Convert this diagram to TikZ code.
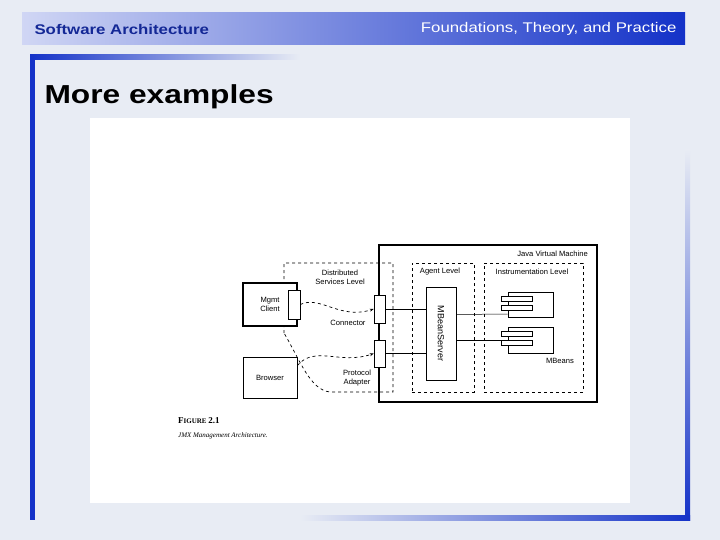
\documentclass[tikz,border=0pt]{standalone}
\usepackage{fontspec}
\setmainfont{Liberation Sans}
\newfontfamily\serifcap{Liberation Serif}
\usetikzlibrary{arrows.meta}
\definecolor{hblue}{RGB}{20,50,200}
\definecolor{dblue}{RGB}{20,40,150}
\definecolor{bgc}{RGB}{232,236,244}
\begin{document}
\begin{tikzpicture}[x=1pt,y=-1pt,
  lbl/.style={font=\fontsize{7.6}{8.6}\selectfont,inner sep=0pt,align=center},
  dbox/.style={draw,dashed,line width=0.7pt},
  tbox/.style={draw,line width=1.4pt},
  sbox/.style={draw,line width=0.6pt,fill=white},
  wire/.style={line width=0.8pt},
  darr/.style={dashed,line width=0.7pt,-{Stealth[length=4pt]}}]
\useasboundingbox (0,0) rectangle (720,540);
\fill[bgc] (0,0) rectangle (720,540);
% header
\shade[left color=white!80!hblue,right color=hblue] (22,13) rectangle (685,45);
\node[anchor=west,font=\bfseries\fontsize{14}{16}\selectfont,text=dblue] (ht) at (31,29) {\scalebox{1.2}[1]{Software Architecture}};
\node[anchor=east,font=\fontsize{14}{16}\selectfont,text=white] (hr) at (680,29) {\scalebox{1.2}[1]{Foundations, Theory, and Practice}};
% frame
\fill[hblue] (30,55) rectangle (35,520);
\shade[left color=hblue,right color=bgc] (30,55) rectangle (300,60);
\shade[top color=bgc,bottom color=hblue] (685,150) rectangle (690,520);
\shade[left color=bgc,right color=hblue] (300,515) rectangle (690,520);
\node[anchor=west,font=\bfseries\fontsize{26}{30}\selectfont] (title) at (41,97) {\scalebox{1.22}[1]{More examples}};
\fill[white] (90,118) rectangle (630,503);
% diagram
\node[tbox,minimum width=218,minimum height=157] (jvm) at (488,323.5) {};
\node[lbl,anchor=east] (jvml) at (588,254) {Java Virtual Machine};
\draw[dbox] (284,333) -- (284,263) -- (393,263) -- (393,392) -- (330,392) .. controls (310,390) and (300,360) .. (284,333);
\node[dbox,minimum width=62,minimum height=129] (agent) at (443,327.5) {};
\node[dbox,minimum width=99,minimum height=129] (instr) at (533.5,327.5) {};
\node[lbl] (dsl) at (340,277) {Distributed\\Services Level};
\node[lbl] (al) at (440,272) {Agent Level};
\node[lbl] (il) at (532,272) {Instrumentation Level};
\node[tbox,fill=white,minimum width=54,minimum height=43,lbl] (mgmt) at (270,304.5) {Mgmt\\Client};
\node[sbox,minimum width=12,minimum height=29] (stub) at (294,304.5) {};
\node[draw,line width=0.6pt,minimum width=54,minimum height=41,lbl] (browser) at (270,377.5) {Browser};
\node[sbox,minimum width=11,minimum height=28] (conn) at (379.5,309) {};
\node[sbox,minimum width=11,minimum height=27] (proto) at (379.5,353.5) {};
\node[lbl] (connl) at (348,323) {Connector};
\node[lbl] (protol) at (357,378) {Protocol\\Adapter};
\node[sbox,minimum width=30,minimum height=93] (mbs) at (441,333.5) {};
\node[lbl,rotate=-90,font=\fontsize{9}{10}\selectfont] (mbsl) at (441,333.5) {MBeanServer};
\node[sbox,minimum width=45,minimum height=25] (mb1) at (530.5,304.5) {};
\node[sbox,minimum width=31,minimum height=5,inner sep=0pt] (t1a) at (516.5,298.5) {};
\node[sbox,minimum width=31,minimum height=5,inner sep=0pt] (t1b) at (516.5,307.5) {};
\node[sbox,minimum width=45,minimum height=26] (mb2) at (530.5,340) {};
\node[sbox,minimum width=31,minimum height=5,inner sep=0pt] (t2a) at (516.5,333.5) {};
\node[sbox,minimum width=31,minimum height=5,inner sep=0pt] (t2b) at (516.5,342.5) {};
\node[lbl] (mbl) at (560,361) {MBeans};
\draw[wire] (conn.east) -- (conn.east -| mbs.west);
\draw[wire] (proto.east) -- (proto.east -| mbs.west);
\draw[line width=0.5pt] (mbs.east |- mb1.center) ++(0,10) -- (mb1.west |- 0,314);
\draw[line width=0.5pt] (mbs.east |- mb2.center) -- (mb2.west);
\draw[darr] (stub.east) .. controls (320,295) and (340,320) .. (conn.west);
\draw[darr] (browser.east) ++(0,-12) .. controls (315,345) and (340,365) .. (proto.west);
% caption
\node[anchor=west,font=\serifcap\bfseries\fontsize{9}{10}\selectfont,inner sep=0pt] (fig) at (178,421) {F\fontsize{7}{8}\selectfont IGURE \fontsize{9}{10}\selectfont 2.1};
\node[anchor=west,font=\serifcap\itshape\fontsize{7}{8}\selectfont,inner sep=0pt] (cap) at (178,436) {JMX Management Architecture.};
\end{tikzpicture}
\end{document}
